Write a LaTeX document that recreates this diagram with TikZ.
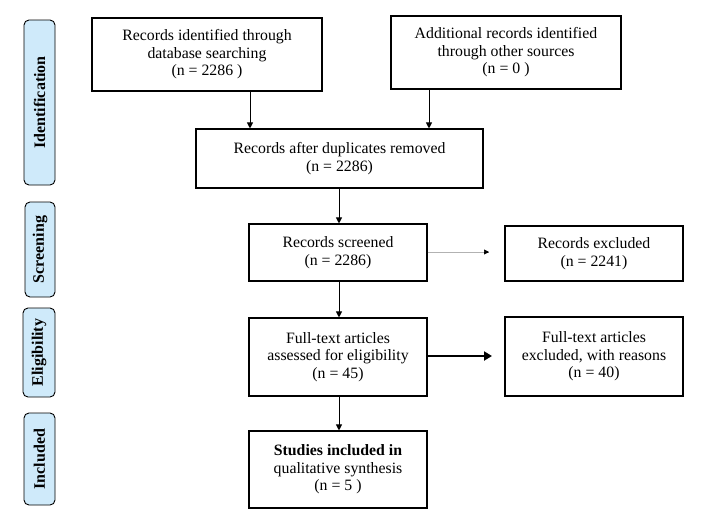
\documentclass[tikz,border=0pt]{standalone}
\usepackage{fontspec}
\setmainfont{Liberation Serif}
\usetikzlibrary{arrows.meta,calc}
\definecolor{sideblue}{RGB}{207,234,250}
\begin{document}
\begin{tikzpicture}[x=1pt,y=-1pt,
  box/.style={draw=black, line width=1.1pt, align=center, inner sep=0pt, font=\fontsize{15.8}{17.5}\selectfont},
  side/.style={draw=black, line width=0.9pt, fill=sideblue, rounded corners=5pt, inner sep=0pt},
  sidetext/.style={rotate=90, font=\bfseries\fontsize{16}{19}\selectfont},
  arr/.style={-{Triangle[length=6pt,width=6pt]}, line width=1pt}
]
\useasboundingbox (0,0) rectangle (702,528);
% side labels
\node[side, minimum width=31pt, minimum height=165pt] (sid) at (39.5,102.5) {};
\node[sidetext] (sidt) at (sid.center) {Identification};
\node[side, minimum width=30pt, minimum height=95pt] (sscr) at (40,249.5) {};
\node[sidetext] (sscrt) at (sscr.center) {Screening};
\node[side, minimum width=32pt, minimum height=89pt] (self) at (39,352.5) {};
\node[sidetext] (selft) at (self.center) {Eligibility};
\node[side, minimum width=31pt, minimum height=92pt] (sinc) at (39.5,459) {};
\node[sidetext] (sinct) at (sinc.center) {Included};
% boxes
\node[box, minimum width=230pt, minimum height=73pt] (b1) at (207,54.5) {Records identified through\\database searching\\(n = 2286 )};
\node[box, minimum width=230pt, minimum height=73pt] (b2) at (506,52.5) {Additional records identified\\through other sources\\(n = 0 )};
\node[box, minimum width=287pt, minimum height=59pt] (b3) at (339.5,158.5) {Records after duplicates removed\\(n = 2286)};
\node[box, minimum width=178pt, minimum height=57pt] (b4) at (338,252.5) {Records screened\\(n = 2286)};
\node[box, minimum width=178pt, minimum height=55pt] (b5) at (594,253.5) {Records excluded\\(n = 2241)};
\node[box, minimum width=178pt, minimum height=78pt] (b6) at (338,357) {Full-text articles\\assessed for eligibility\\(n = 45)};
\node[box, minimum width=178pt, minimum height=79pt] (b7) at (594,356.5) {Full-text articles\\excluded, with reasons\\(n = 40)};
\node[box, minimum width=178pt, minimum height=77pt] (b8) at (338,469.5) {\textbf{Studies included in}\\qualitative synthesis\\(n = 5 )};
% connectors
\draw[arr] (b1.south -| 250,0) -- (b3.north -| 250,0);
\draw[arr] (b2.south -| 429,0) -- (b3.north -| 429,0);
\draw[arr] (b3.south -| 339,0) -- (b4.north -| 339,0);
\draw[arr] (b4.south -| 339,0) -- (b6.north -| 339,0);
\draw[arr] (b6.south -| 339,0) -- (b8.north -| 339,0);
\coordinate (e1) at (489,252);
\draw[gray!60, line width=0.6pt] (b4.east |- e1) -- (e1);
\draw[-{Triangle[length=5pt,width=5pt]}, line width=0.6pt] ($(e1)+(-1,0)$) -- (e1);
\coordinate (e2) at (492,356);
\draw[arr, line width=2.2pt, -{Triangle[length=8pt,width=9pt]}] (b6.east |- e2) -- (e2);
\end{tikzpicture}
\end{document}
